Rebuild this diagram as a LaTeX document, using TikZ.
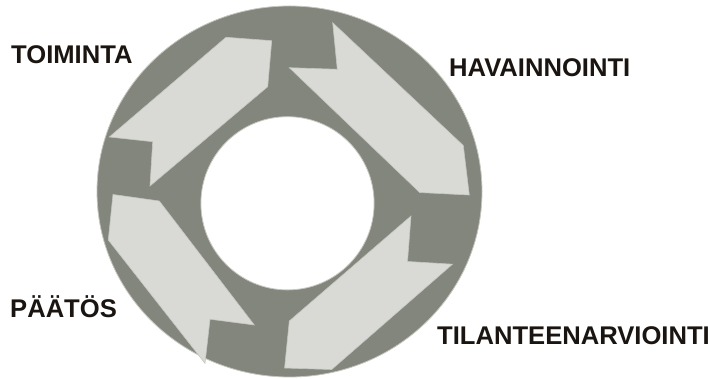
\documentclass[tikz,border=0pt]{standalone}
\usepackage{fontspec}
\setmainfont{Liberation Sans}
\definecolor{ringgray}{HTML}{83867C}
\definecolor{ringedge}{HTML}{C4C6BF}
\definecolor{arrowfill}{HTML}{D9DAD6}
\definecolor{labeltext}{HTML}{1A1511}
\begin{document}
\begin{tikzpicture}[x=1pt,y=-1pt,
  arrowshape/.style={fill=arrowfill,draw=ringedge,line width=0.6pt,line join=miter},
  cyclelabel/.style={anchor=base west,inner sep=0pt,text=labeltext,font=\fontsize{25.6}{30}\selectfont\bfseries}]
\useasboundingbox (0,0) rectangle (710,379);
% ring
\fill[ringgray,draw=ringedge,line width=0.8pt] (289.5,191.5) ellipse [x radius=192.5,y radius=185.5];
\fill[white,draw=ringedge,line width=0.8pt] (287.5,203.3) circle [radius=86.6];
% arrows
% top-left (TOIMINTA)
\draw[arrowshape] (109.3,137) -- (226,37.3) -- (271.7,40.7) -- (267.7,86.7) -- (150,186) -- (152.7,141.7) -- cycle;
% top-right (HAVAINNOINTI)
\draw[arrowshape] (332.7,22.7) -- (337.3,69.3) -- (289.3,67.7) -- (419.7,192.5) -- (469.3,195) -- (463.3,145.5) -- cycle;
% bottom-right (TILANTEENARVIOINTI)
\draw[arrowshape] (411,216) -- (407.5,261.5) -- (452.5,264.2) -- (331.7,369.5) -- (284.6,368) -- (289.3,321) -- cycle;
% bottom-left (PAATOS)
\draw[arrowshape] (113,194.5) -- (159.3,201) -- (254.3,325) -- (210,319.2) -- (205,363.3) -- (108.3,240) -- cycle;
% labels
\node[cyclelabel] (toiminta) at (11,64) {TOIMINTA};
\node[cyclelabel] (havainnointi) at (449,77) {HAVAINNOINTI};
\node[cyclelabel] (paatos) at (10,318) {PÄÄTÖS};
\node[cyclelabel] (tilanne) at (437,345) {TILANTEENARVIOINTI};
\end{tikzpicture}
\end{document}
